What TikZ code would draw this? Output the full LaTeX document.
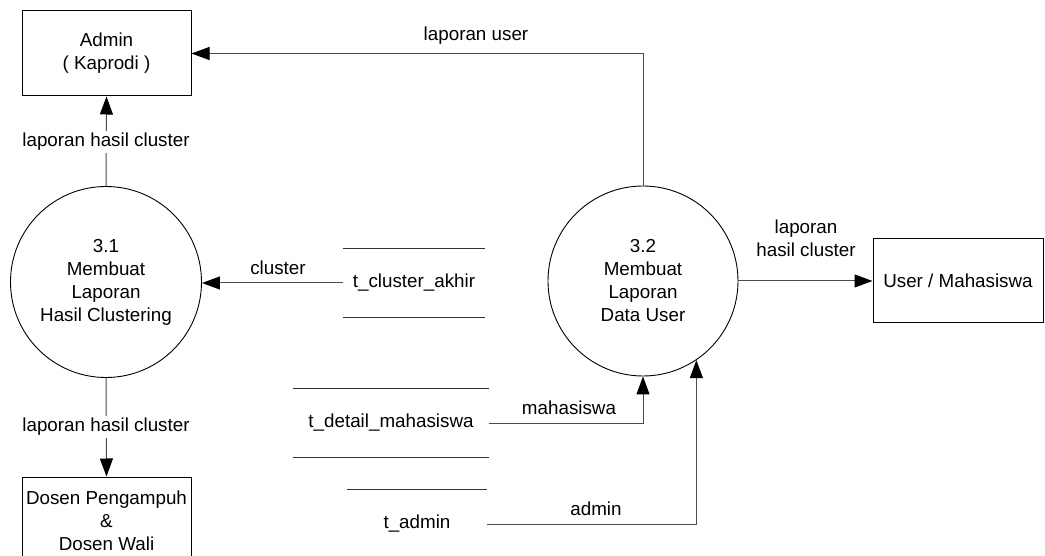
\documentclass[tikz,border=0pt]{standalone}
\usepackage{fontspec}
\setmainfont{Liberation Sans}
\usetikzlibrary{arrows.meta}
\begin{document}
\begin{tikzpicture}[x=1pt,y=-1pt,
  txt/.style={font=\fontsize{18.8}{23}\selectfont,align=center,inner sep=0pt},
  entity/.style={txt,draw=black,line width=1pt,minimum width=169pt,minimum height=85pt},
  process/.style={txt,draw=black,line width=0.9pt,circle,minimum size=191pt},
  storebox/.style={txt,minimum height=68pt},
  storeline/.style={draw=black!80,line width=1pt},
  flow/.style={draw=black!70,line width=1pt,-{Triangle[length=18pt,width=13pt,black]}},
  lbl/.style={txt,fill=white,inner sep=2pt}]
\useasboundingbox (0,0) rectangle (1045,556);
\clip (0,0) rectangle (1045,556);
\fill[white] (0,0) rectangle (1045,556);

\node[entity] (admin) at (106.5,53.5) {Admin\\( Kaprodi )};
\node[entity,minimum height=88pt] (dosen) at (106.5,521) {Dosen Pengampuh\\\&\\Dosen Wali};
\node[entity,minimum width=170pt,minimum height=84pt] (user) at (958,281) {User / Mahasiswa};

\node[process] (p31) at (106,282) {3.1\\Membuat\\Laporan\\Hasil Clustering};
\node[process,minimum size=190pt] (p32) at (643,281) {3.2\\Membuat\\Laporan\\Data User};

\node[storebox,minimum width=142pt] (s1) at (414,283) {t\_cluster\_akhir};
\node[storebox,minimum width=196pt] (s2) at (391,423) {t\_detail\_mahasiswa};
\node[storebox,minimum width=140pt] (s3) at (417,524) {t\_admin};
\foreach \s in {s1,s2,s3}{
  \path[storeline] (\s.north west) -- (\s.north east);
  \path[storeline] (\s.south west) -- (\s.south east);
}

% flows
\path[flow] (p31.north) -- (admin.south);
\node[lbl] (l1) at (106,142) {laporan hasil cluster};
\path[flow] (p31.south) -- (dosen.north);
\node[lbl] (l2) at (106,427) {laporan hasil cluster};

\path[flow] (p32.north) |- (admin.east);
\node[txt] (l3) at (476,36) {laporan user};

\path[flow] (p32.east) -- (user.west);
\node[txt] (l4) at (806,238) {laporan\\hasil cluster};

\path[flow] (s1.west) -- (s1.west -| p31.east);
\node[txt] (l5) at (278,268) {cluster};

\path[flow] (s2.east) -| (p32.south);
\node[txt] (l6) at (569,408) {mahasiswa};

\path[flow] (s3.east) -| (p32.-56.8);
\node[txt] (l7) at (596,509) {admin};
\end{tikzpicture}
\end{document}
